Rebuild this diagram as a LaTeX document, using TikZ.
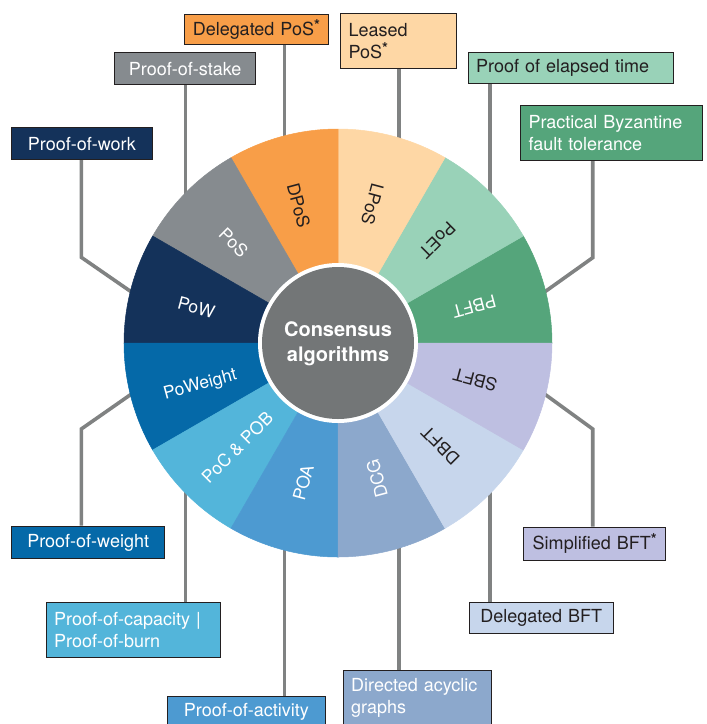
\documentclass[tikz,border=0pt]{standalone}
\usepackage{fontspec}
\setmainfont{TeX Gyre Heros}
\usetikzlibrary{calc}

\definecolor{cPoW}{HTML}{14325A}
\definecolor{cPoS}{HTML}{868B8F}
\definecolor{cDPoS}{HTML}{F89E48}
\definecolor{cLPoS}{HTML}{FED7A5}
\definecolor{cPoET}{HTML}{99D2B8}
\definecolor{cPBFT}{HTML}{55A57B}
\definecolor{cSBFT}{HTML}{BEBFE1}
\definecolor{cDBFT}{HTML}{C7D6EC}
\definecolor{cDCG}{HTML}{8CA8CC}
\definecolor{cPOA}{HTML}{4D9AD1}
\definecolor{cPoC}{HTML}{53B5DA}
\definecolor{cPoWeight}{HTML}{0569A8}
\definecolor{cCore}{HTML}{737677}
\definecolor{cLine}{HTML}{808282}
\definecolor{cInk}{HTML}{231F20}

\newcommand{\starmark}{\raisebox{5pt}{\fontsize{15}{15}\selectfont\bfseries *}}

\tikzset{
  box/.style={draw=cInk, line width=1pt, anchor=north west, inner xsep=8pt, inner ysep=0pt,
    font=\fontsize{18}{22}\selectfont, text=cInk},
  conn/.style={draw=cLine, line width=3.6pt, shorten >=-4pt},
  slice/.style={line width=0.5pt},
  seg/.style={inner sep=0pt, font=\fontsize{17.5}{20}\selectfont, text=cInk}
}

\begin{document}
\begin{tikzpicture}[x=1pt,y=1pt]
	\useasboundingbox (0,0) rectangle (707,-724);
	\clip (0,0) rectangle (707,-724);

	% points on the rim of the wheel
	\begin{scope}[shift={(338,-343)}]
	\coordinate (rLPoS) at (73.5:214);
	\coordinate (rDPoS) at (104.5:214);
	\coordinate (rPoS) at (135.4:214);
	\coordinate (rPoW) at (166:214);
	\coordinate (rPoWeight) at (194:214);
	\coordinate (rPoC) at (224.6:214);
	\coordinate (rPOA) at (255.5:214);
	\coordinate (rDCG) at (286.5:214);
	\coordinate (rDBFT) at (315.3:214);
	\coordinate (rSBFT) at (346:214);
	\coordinate (rPBFT) at (14:214);
	\coordinate (rPoET) at (44.7:214);
	\end{scope}
	\coordinate (kPoW) at (81.3,-257.3);
	\coordinate (kPoWeight) at (81.3,-429);
	\coordinate (kPBFT) at (592.7,-257.7);
	\coordinate (kSBFT) at (592.7,-429);

	% label boxes
	\node[box, fill=cDPoS, text width=128pt, minimum height=30.3pt, align=left] (dpos) at (184.3,-14) {Delegated PoS\starmark};
	\node[box, fill=cLPoS, text width=99.7pt, minimum height=55pt, align=left] (lpos) at (340,-13.3) {Leased\\PoS\starmark};
	\node[box, fill=cPoET, text width=189.6pt, minimum height=31.6pt, align=left] (poet) at (467.7,-51.7) {Proof of elapsed time};
	\node[box, fill=cPBFT, text=white, text width=165.7pt, minimum height=55pt, align=left] (pbft) at (520,-105) {Practical Byzantine\\fault tolerance};
	\node[box, fill=cPoS, text=white, text width=124.7pt, minimum height=31.7pt, align=center] (pos) at (114.3,-52.3) {Proof-of-stake};
	\node[box, fill=cPoW, text=white, text width=124.7pt, minimum height=31.7pt, align=center] (pow) at (11,-127.3) {Proof-of-work};
	\node[box, fill=cPoWeight, text=white, text width=137.3pt, minimum height=32.6pt, align=center] (poweight) at (11,-525.7) {Proof-of-weight};
	\node[box, fill=cPoC, text=white, text width=158.3pt, minimum height=54.4pt, align=left] (poc) at (45.7,-602.3) {Proof-of-capacity |\\Proof-of-burn};
	\node[box, fill=cPOA, text=white, text width=142.3pt, minimum height=31.7pt, align=center] (poa) at (166.7,-696) {Proof-of-activity};
	\node[box, fill=cDCG, text=white, text width=132pt, minimum height=55pt, align=left] (dcg) at (342.7,-670) {Directed acyclic\\graphs};
	\node[box, fill=cDBFT, text width=128pt, minimum height=31.3pt, align=center] (dbft) at (468.7,-602) {Delegated BFT};
	\node[box, fill=cSBFT, text width=125.7pt, minimum height=33.3pt, align=center] (sbft) at (523.3,-526.7) {Simplified BFT\starmark};

	% connectors
	\draw[conn] (dpos.south -| rDPoS) -- (rDPoS);
	\draw[conn] (lpos.south -| rLPoS) -- (rLPoS);
	\draw[conn] (poet.south -| rPoET) -- (rPoET);
	\draw[conn] (pos.south -| rPoS) -- (rPoS);
	\draw[conn] (pow.south -| kPoW) -- (kPoW) -- (rPoW);
	\draw[conn] (pbft.south -| kPBFT) -- (kPBFT) -- (rPBFT);
	\draw[conn] (poweight.north -| kPoWeight) -- (kPoWeight) -- (rPoWeight);
	\draw[conn] (sbft.north -| kSBFT) -- (kSBFT) -- (rSBFT);
	\draw[conn] (poc.north -| rPoC) -- (rPoC);
	\draw[conn] (poa.north -| rPOA) -- (rPOA);
	\draw[conn] (dcg.north -| rDCG) -- (rDCG);
	\draw[conn] (dbft.north -| rDBFT) -- (rDBFT);

	% the wheel
	\begin{scope}[shift={(338,-343)}]
	\filldraw[slice, cPBFT] (0,0) -- (0:214) arc[start angle=0, end angle=30, radius=214] -- cycle;
	\filldraw[slice, cPoET] (0,0) -- (30:214) arc[start angle=30, end angle=60, radius=214] -- cycle;
	\filldraw[slice, cLPoS] (0,0) -- (60:214) arc[start angle=60, end angle=90, radius=214] -- cycle;
	\filldraw[slice, cDPoS] (0,0) -- (90:214) arc[start angle=90, end angle=120, radius=214] -- cycle;
	\filldraw[slice, cPoS] (0,0) -- (120:214) arc[start angle=120, end angle=150, radius=214] -- cycle;
	\filldraw[slice, cPoW] (0,0) -- (150:214) arc[start angle=150, end angle=180, radius=214] -- cycle;
	\filldraw[slice, cPoWeight] (0,0) -- (180:214) arc[start angle=180, end angle=210, radius=214] -- cycle;
	\filldraw[slice, cPoC] (0,0) -- (210:214) arc[start angle=210, end angle=240, radius=214] -- cycle;
	\filldraw[slice, cPOA] (0,0) -- (240:214) arc[start angle=240, end angle=270, radius=214] -- cycle;
	\filldraw[slice, cDCG] (0,0) -- (270:214) arc[start angle=270, end angle=300, radius=214] -- cycle;
	\filldraw[slice, cDBFT] (0,0) -- (300:214) arc[start angle=300, end angle=330, radius=214] -- cycle;
	\filldraw[slice, cSBFT] (0,0) -- (330:214) arc[start angle=330, end angle=360, radius=214] -- cycle;

	\node[seg, rotate=195, text=white] (sPBFT) at (15:141) {PBFT};
	\node[seg, rotate=225] (sPoET) at (46:143) {PoET};
	\node[seg, rotate=255] (sLPoS) at (76:143) {LPoS};
	\node[seg, rotate=285] (sDPoS) at (106:143) {DPoS};
	\node[seg, rotate=315, text=white] (sPoS) at (136:145) {PoS};
	\node[seg, rotate=345, text=white] (sPoW) at (166:146) {PoW};
	\node[seg, rotate=15, text=white] (sPoWeight) at (197:144) {PoWeight};
	\node[seg, rotate=45, text=white] (sPoC) at (226:145) {PoC \& POB};
	\node[seg, rotate=75, text=white] (sPOA) at (256:144) {POA};
	\node[seg, rotate=105, text=white] (sDCG) at (286:141) {DCG};
	\node[seg, rotate=135] (sDBFT) at (315:145) {DBFT};
	\node[seg, rotate=165] (sSBFT) at (345:142) {SBFT};

	\fill[white] (0,0) circle (80);
	\fill[cCore] (0,0) circle (76);
	\node[align=center, text=white, font=\bfseries\fontsize{20}{25}\selectfont] (core) at (0,-1) {Consensus\\algorithms};
	\end{scope}
\end{tikzpicture}
\end{document}
